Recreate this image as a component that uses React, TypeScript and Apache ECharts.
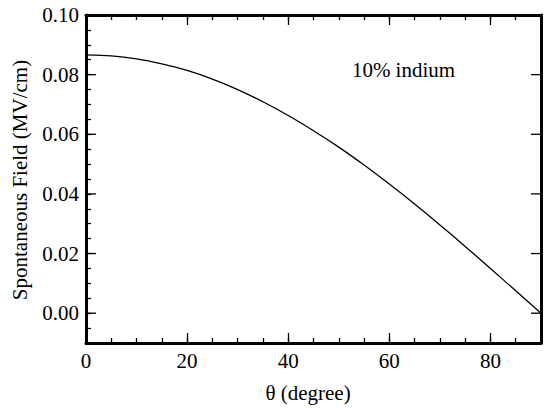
import React, { useEffect, useRef } from "react";
import * as echarts from "echarts";

const thetaValues = [0, 5, 10, 15, 20, 25, 30, 35, 40, 45, 50, 55, 60, 65, 70, 75, 80, 85, 90];
const fieldValues = [
  0.0866, 0.0863, 0.0853, 0.0836, 0.0814, 0.0785, 0.075, 0.0709, 0.0663, 0.0612,
  0.0557, 0.0497, 0.0433, 0.0366, 0.0296, 0.0224, 0.015, 0.0075, 0.0,
];
const yMajorTicks = [0, 0.02, 0.04, 0.06, 0.08, 0.1];
const xTitle = "θ (degree)";
const yTitle = "Spontaneous Field (MV/cm)";
const annotation = "10% indium";

const FONT = "Liberation Serif";
const FS = 21;

export default function App() {
  const ref = useRef<HTMLDivElement>(null);
  useEffect(() => {
    if (!ref.current) return;
    const chart = echarts.init(ref.current, null, { renderer: "svg" });
    const mkX = (position: string, major: boolean, showLine: boolean, showLabel: boolean) => ({
      type: "value",
      position,
      min: 0,
      max: 90,
      interval: major ? 20 : 5,
      axisLine: { show: showLine, onZero: false, lineStyle: { color: "#000", width: 3 } },
      axisTick: {
        show: true,
        inside: true,
        length: major ? 10 : 5,
        lineStyle: { color: "#000", width: 1.3 },
      },
      axisLabel: {
        show: showLabel,
        margin: 7,
        color: "#000",
        fontFamily: FONT,
        fontSize: FS,
        formatter: (v: number) => (v > 85 ? "" : String(v)),
      },
      splitLine: { show: false },
    });
    const mkY = (position: string, major: boolean, showLine: boolean, showLabel: boolean) => ({
      type: "value",
      position,
      min: -0.01,
      max: 0.1,
      interval: major ? 0.01 : 0.005,
      axisLine: { show: showLine, onZero: false, lineStyle: { color: "#000", width: 3 } },
      axisTick: {
        show: !major,
        inside: true,
        length: 5,
        lineStyle: { color: "#000", width: 1.3 },
      },
      axisLabel: {
        show: showLabel,
        margin: 7,
        color: "#000",
        fontFamily: FONT,
        fontSize: FS,
        formatter: (v: number) => {
          const k = Math.round(v * 100);
          return k >= 0 && k % 2 === 0 ? v.toFixed(2) : "";
        },
      },
      splitLine: { show: false },
    });
    chart.setOption({
      animation: false,
      grid: { left: 86, top: 15, width: 461.6, height: 328 },
      xAxis: [
        mkX("bottom", true, true, true),
        mkX("bottom", false, false, false),
        mkX("top", true, true, false),
        mkX("top", false, false, false),
      ],
      yAxis: [
        mkY("left", true, true, true),
        mkY("left", false, false, false),
        mkY("right", true, true, false),
      ],
      series: [
        {
          type: "line",
          data: thetaValues.map((t, i) => [t, fieldValues[i]]),
          showSymbol: false,
          smooth: 0.3,
          lineStyle: { color: "#000", width: 1.3 },
          xAxisIndex: 0,
          yAxisIndex: 0,
        },
        {
          type: "custom",
          xAxisIndex: 0,
          yAxisIndex: 0,
          clip: false,
          silent: true,
          data: yMajorTicks.map((v) => [0, v]),
          encode: { x: 0, y: 1 },
          renderItem: (params: any, api: any) => {
            const v = api.value(1);
            const p = api.coord([0, v]);
            const q = api.coord([90, v]);
            return {
              type: "group",
              children: [
                { type: "line", shape: { x1: p[0], y1: p[1], x2: p[0] + 10, y2: p[1] }, style: { stroke: "#000", lineWidth: 1.3 } },
                { type: "line", shape: { x1: q[0] - 10, y1: q[1], x2: q[0], y2: q[1] }, style: { stroke: "#000", lineWidth: 1.3 } },
              ],
            };
          },
        },
      ],
      graphic: [
        {
          type: "text",
          x: 403.5,
          y: 70,
          style: { text: annotation, fontFamily: FONT, fontSize: FS, fill: "#000", align: "center", verticalAlign: "middle" },
        },
        {
          type: "text",
          x: 308,
          y: 393,
          style: { text: xTitle, fontFamily: FONT, fontSize: FS, fill: "#000", align: "center", verticalAlign: "middle" },
        },
        {
          type: "text",
          x: 20,
          y: 180,
          rotation: Math.PI / 2,
          style: { text: yTitle, fontFamily: FONT, fontSize: FS, fill: "#000", align: "center", verticalAlign: "middle" },
        },
      ],
    });
    return () => chart.dispose();
  }, []);
  return (
    <div
      ref={ref}
      style={{ position: "fixed", left: 0, top: 0, width: 544, height: 408, background: "#fff" }}
    />
  );
}
